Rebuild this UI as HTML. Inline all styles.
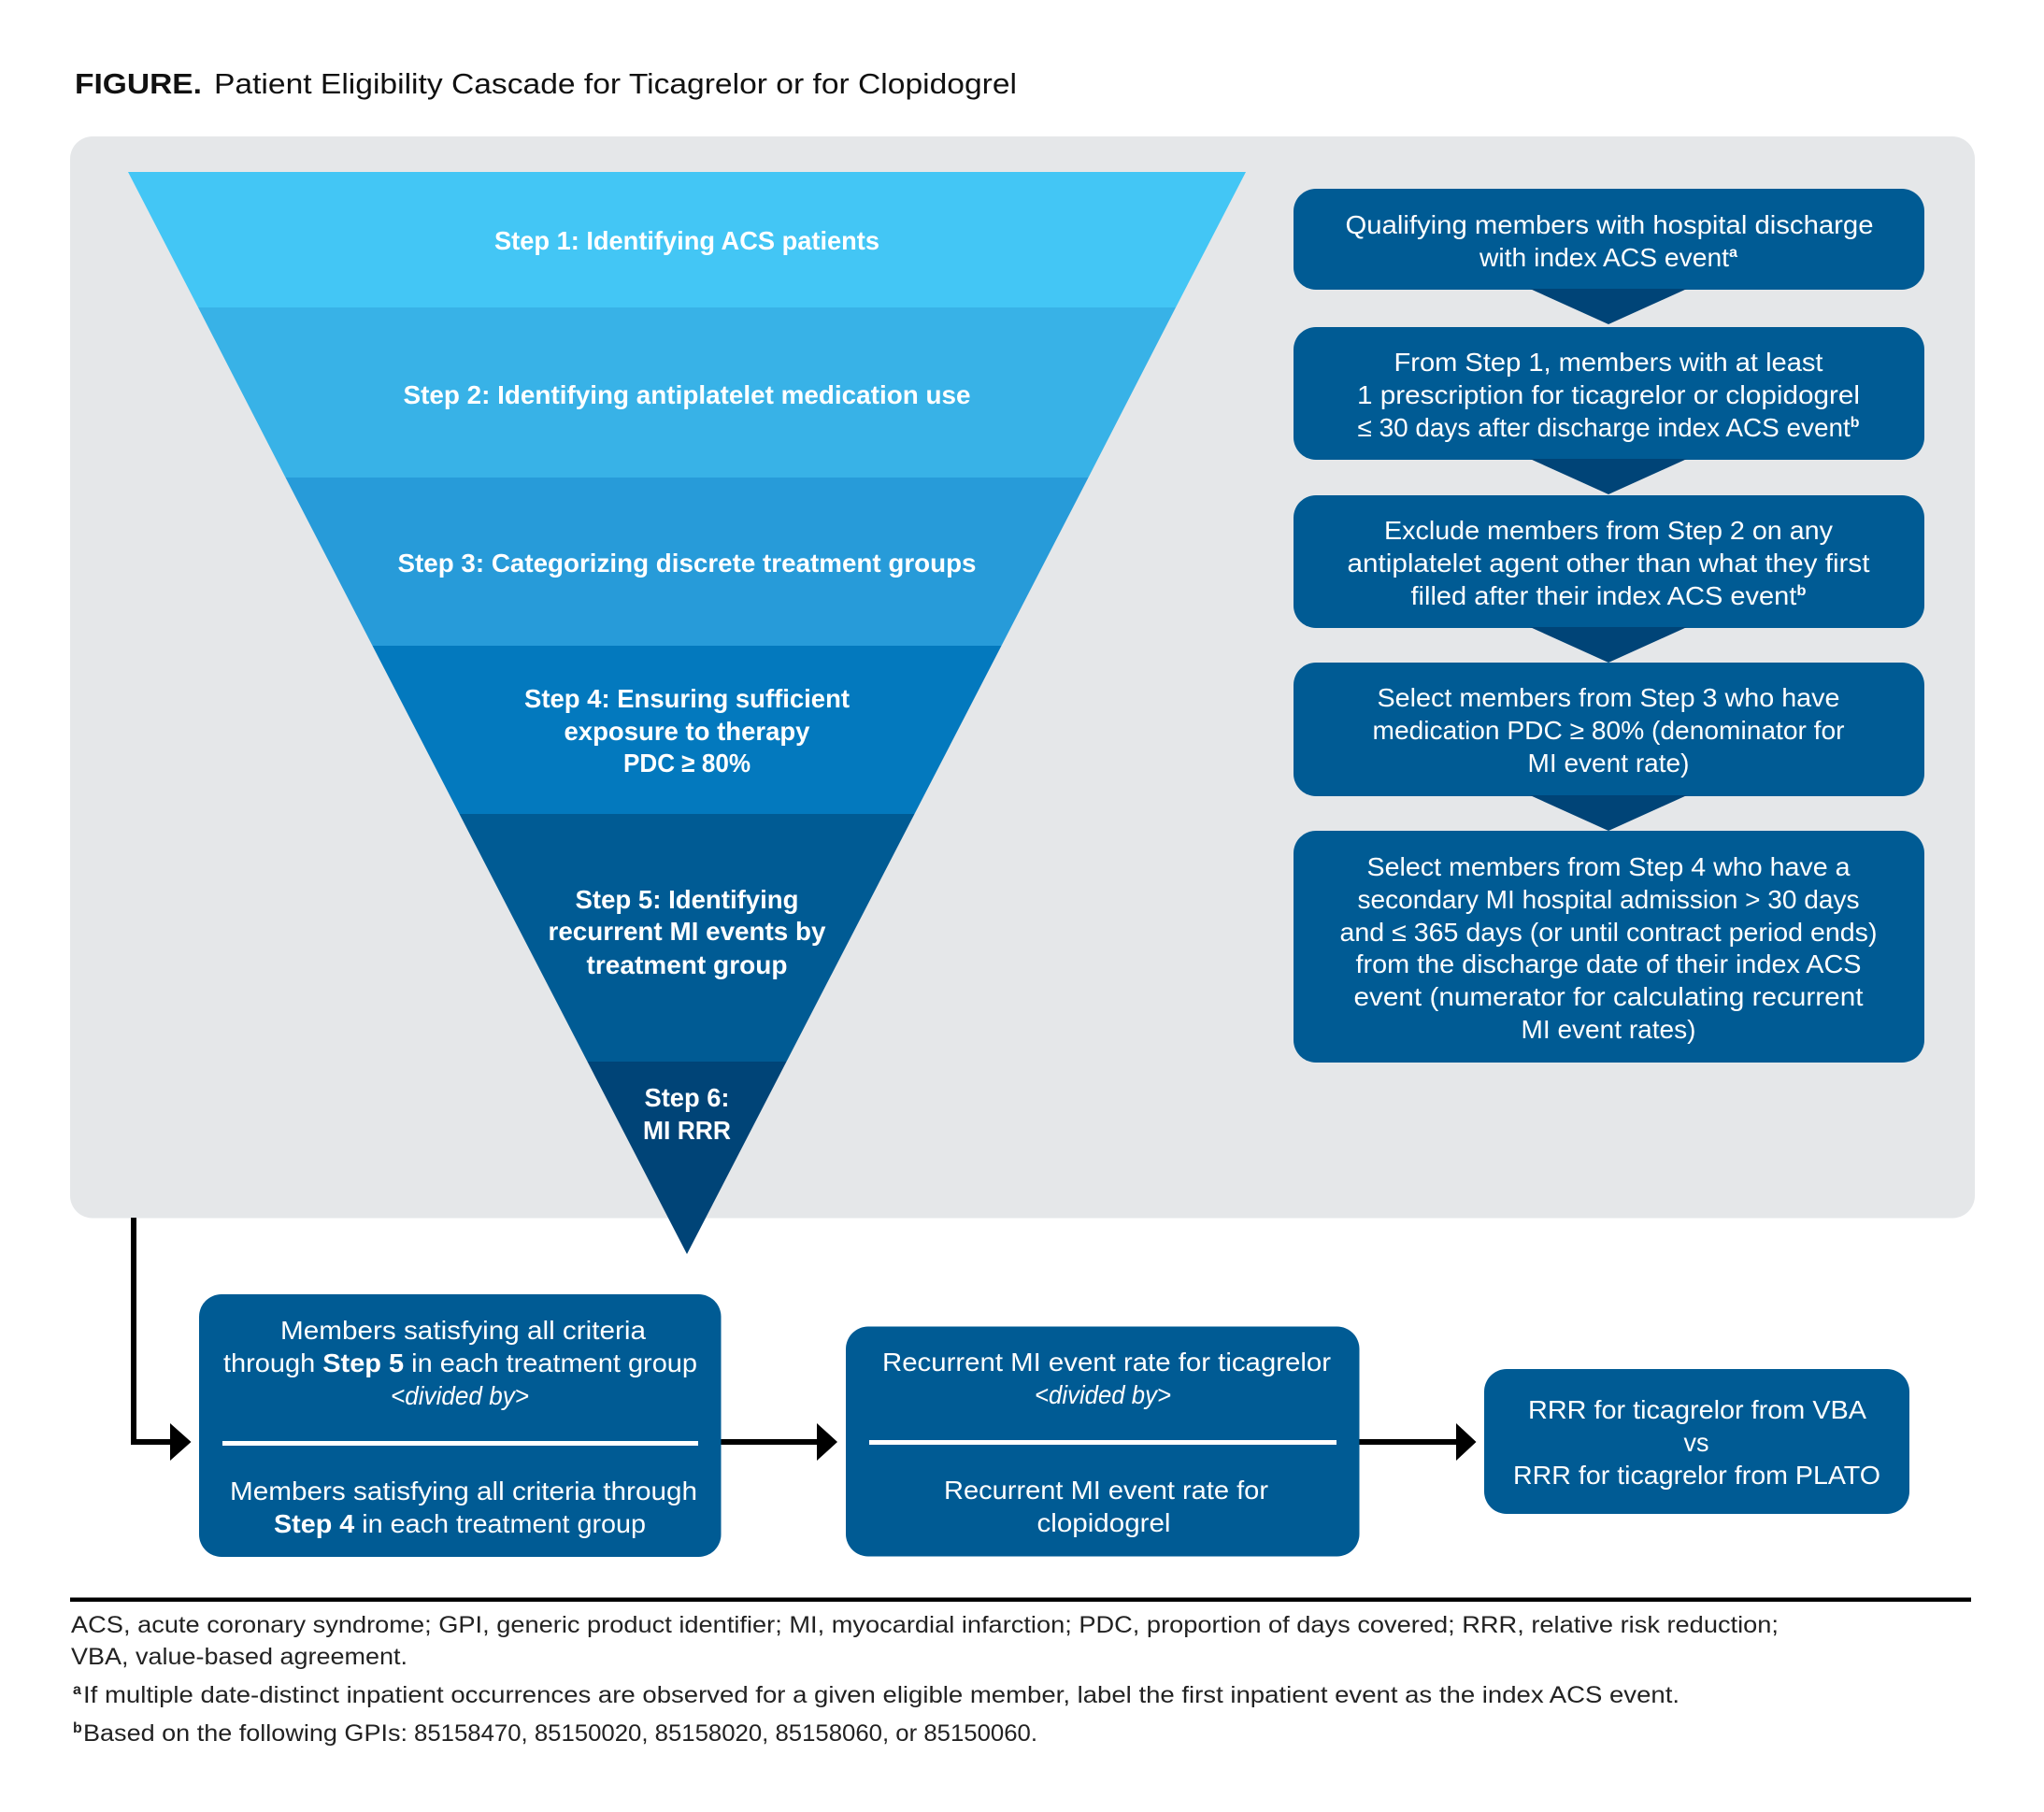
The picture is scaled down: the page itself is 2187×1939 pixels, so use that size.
<!DOCTYPE html>
<html><head><meta charset="utf-8"><title>Figure</title>
<style>
html,body{margin:0;padding:0;background:#fff}
svg{display:block}
text{font-family:"Liberation Sans",sans-serif}
.b{font-size:28px;fill:#fff;text-anchor:middle}
.s{font-size:28px;fill:#fff;text-anchor:middle;font-weight:700}
.f{font-size:25px;fill:#222}
.sp{font-size:16px;font-weight:700}
</style></head><body>
<svg xmlns="http://www.w3.org/2000/svg" width="2187" height="1939" viewBox="0 0 2187 1939">
<rect width="2187" height="1939" fill="#fff"/>
<text x="80" y="100" font-size="31" font-weight="700" fill="#111" textLength="136" lengthAdjust="spacingAndGlyphs">FIGURE.</text>
<text x="229" y="100" font-size="31" fill="#111" textLength="859" lengthAdjust="spacingAndGlyphs">Patient Eligibility Cascade for Ticagrelor or for Clopidogrel</text>

<rect x="75" y="146" width="2038" height="1157.5" rx="24" fill="#E5E7E9"/>

<polygon points="137,184 1333,184 1258,329 212,329" fill="#43C6F5"/>
<polygon points="212,329 1258,329 1164.5,511 305.5,511" fill="#38B2E7"/>
<polygon points="305.5,511 1164.5,511 1071.5,691 398.5,691" fill="#279BD9"/>
<polygon points="398.5,691 1071.5,691 978.5,871 491.5,871" fill="#0379BE"/>
<polygon points="491.5,871 978.5,871 841.5,1136 628.5,1136" fill="#005B94"/>
<polygon points="628.5,1136 841.5,1136 735,1342" fill="#004477"/>

<text class="s" x="735" y="267" textLength="412" lengthAdjust="spacingAndGlyphs">Step 1: Identifying ACS patients</text>
<text class="s" x="735" y="432" textLength="607" lengthAdjust="spacingAndGlyphs">Step 2: Identifying antiplatelet medication use</text>
<text class="s" x="735" y="612" textLength="619" lengthAdjust="spacingAndGlyphs">Step 3: Categorizing discrete treatment groups</text>
<text class="s" x="735" y="757" textLength="348" lengthAdjust="spacingAndGlyphs">Step 4: Ensuring sufficient</text>
<text class="s" x="735" y="792" textLength="263" lengthAdjust="spacingAndGlyphs">exposure to therapy</text>
<text class="s" x="735" y="826" textLength="136" lengthAdjust="spacingAndGlyphs">PDC ≥ 80%</text>
<text class="s" x="735" y="972" textLength="239" lengthAdjust="spacingAndGlyphs">Step 5: Identifying</text>
<text class="s" x="735" y="1006" textLength="297" lengthAdjust="spacingAndGlyphs">recurrent MI events by</text>
<text class="s" x="735" y="1042" textLength="215" lengthAdjust="spacingAndGlyphs">treatment group</text>
<text class="s" x="735" y="1184" textLength="91" lengthAdjust="spacingAndGlyphs">Step 6:</text>
<text class="s" x="735" y="1219" textLength="94" lengthAdjust="spacingAndGlyphs">MI RRR</text>

<rect x="1384" y="202" width="675" height="108" rx="24" fill="#005B94"/>
<rect x="1384" y="350" width="675" height="142" rx="24" fill="#005B94"/>
<rect x="1384" y="530" width="675" height="142" rx="24" fill="#005B94"/>
<rect x="1384" y="709" width="675" height="143" rx="24" fill="#005B94"/>
<rect x="1384" y="889" width="675" height="248" rx="24" fill="#005B94"/>
<polygon points="1637,309 1805,309 1721,347" fill="#004477"/>
<polygon points="1637,491 1805,491 1721,529" fill="#004477"/>
<polygon points="1637,671 1805,671 1721,709" fill="#004477"/>
<polygon points="1637,851 1805,851 1721,889" fill="#004477"/>

<text class="b" x="1722" y="250" textLength="565" lengthAdjust="spacingAndGlyphs">Qualifying members with hospital discharge</text>
<text class="b" x="1721" y="285" textLength="276" lengthAdjust="spacingAndGlyphs">with index ACS event<tspan class="sp" dy="-10">a</tspan></text>
<text class="b" x="1721" y="397" textLength="459" lengthAdjust="spacingAndGlyphs">From Step 1, members with at least</text>
<text class="b" x="1721" y="432" textLength="538" lengthAdjust="spacingAndGlyphs">1 prescription for ticagrelor or clopidogrel</text>
<text class="b" x="1721" y="467" textLength="537" lengthAdjust="spacingAndGlyphs">≤ 30 days after discharge index ACS event<tspan class="sp" dy="-10">b</tspan></text>
<text class="b" x="1721" y="577" textLength="480" lengthAdjust="spacingAndGlyphs">Exclude members from Step 2 on any</text>
<text class="b" x="1721" y="612" textLength="559" lengthAdjust="spacingAndGlyphs">antiplatelet agent other than what they first</text>
<text class="b" x="1721" y="647" textLength="423" lengthAdjust="spacingAndGlyphs">filled after their index ACS event<tspan class="sp" dy="-10">b</tspan></text>
<text class="b" x="1721" y="756" textLength="495" lengthAdjust="spacingAndGlyphs">Select members from Step 3 who have</text>
<text class="b" x="1721" y="791" textLength="505" lengthAdjust="spacingAndGlyphs">medication PDC ≥ 80% (denominator for</text>
<text class="b" x="1721" y="826" textLength="173" lengthAdjust="spacingAndGlyphs">MI event rate)</text>
<text class="b" x="1721" y="937" textLength="517" lengthAdjust="spacingAndGlyphs">Select members from Step 4 who have a</text>
<text class="b" x="1721" y="972" textLength="537" lengthAdjust="spacingAndGlyphs">secondary MI hospital admission &gt; 30 days</text>
<text class="b" x="1721" y="1007" textLength="575" lengthAdjust="spacingAndGlyphs">and ≤ 365 days (or until contract period ends)</text>
<text class="b" x="1721" y="1041" textLength="541" lengthAdjust="spacingAndGlyphs">from the discharge date of their index ACS</text>
<text class="b" x="1721" y="1076" textLength="545" lengthAdjust="spacingAndGlyphs">event (numerator for calculating recurrent</text>
<text class="b" x="1721" y="1111" textLength="187" lengthAdjust="spacingAndGlyphs">MI event rates)</text>

<polyline points="143,1303 143,1543 190,1543" fill="none" stroke="#000" stroke-width="6"/>
<polygon points="182,1523 204.5,1543 182,1563" fill="#000"/>
<rect x="771" y="1540" width="110" height="6" fill="#000"/>
<polygon points="874,1523 896,1543 874,1563" fill="#000"/>
<rect x="1454" y="1540" width="110" height="6" fill="#000"/>
<polygon points="1558,1523 1579.5,1543 1558,1563" fill="#000"/>

<rect x="213" y="1385" width="558.5" height="281" rx="24" fill="#005B94"/>
<rect x="905" y="1419.5" width="549.5" height="246" rx="24" fill="#005B94"/>
<rect x="1588" y="1465" width="455" height="155" rx="24" fill="#005B94"/>
<rect x="238" y="1542" width="509" height="5" fill="#fff"/>
<rect x="930" y="1541" width="500" height="5" fill="#fff"/>

<text class="b" x="495.500" y="1433" textLength="391" lengthAdjust="spacingAndGlyphs">Members satisfying all criteria</text>
<text class="b" x="492.500" y="1468" textLength="507" lengthAdjust="spacingAndGlyphs">through <tspan font-weight="700">Step 5</tspan> in each treatment group</text>
<text class="b" x="492" y="1503" textLength="148" lengthAdjust="spacingAndGlyphs" font-style="italic">&lt;divided by&gt;</text>
<text class="b" x="496" y="1605" textLength="500" lengthAdjust="spacingAndGlyphs">Members satisfying all criteria through</text>
<text class="b" x="492" y="1640" textLength="398" lengthAdjust="spacingAndGlyphs"><tspan font-weight="700">Step 4</tspan> in each treatment group</text>

<text class="b" x="1184" y="1467" textLength="480" lengthAdjust="spacingAndGlyphs">Recurrent MI event rate for ticagrelor</text>
<text class="b" x="1180" y="1502" textLength="146" lengthAdjust="spacingAndGlyphs" font-style="italic">&lt;divided by&gt;</text>
<text class="b" x="1183.500" y="1604" textLength="347" lengthAdjust="spacingAndGlyphs">Recurrent MI event rate for</text>
<text class="b" x="1181" y="1639" textLength="143" lengthAdjust="spacingAndGlyphs">clopidogrel</text>

<text class="b" x="1816" y="1518" textLength="362" lengthAdjust="spacingAndGlyphs">RRR for ticagrelor from VBA</text>
<text class="b" x="1815" y="1553" textLength="27" lengthAdjust="spacingAndGlyphs">vs</text>
<text class="b" x="1815.500" y="1588" textLength="393" lengthAdjust="spacingAndGlyphs">RRR for ticagrelor from PLATO</text>

<rect x="75" y="1709.500" width="2034" height="4.500" fill="#000"/>
<text class="f" x="76" y="1747" textLength="1827" lengthAdjust="spacingAndGlyphs">ACS, acute coronary syndrome; GPI, generic product identifier; MI, myocardial infarction; PDC, proportion of days covered; RRR, relative risk reduction;</text>
<text class="f" x="76" y="1781" textLength="360" lengthAdjust="spacingAndGlyphs">VBA, value-based agreement.</text>
<text class="f sp" x="78" y="1813">a</text>
<text class="f" x="89" y="1822" textLength="1708" lengthAdjust="spacingAndGlyphs">If multiple date-distinct inpatient occurrences are observed for a given eligible member, label the first inpatient event as the index ACS event.</text>
<text class="f sp" x="78" y="1854">b</text>
<text class="f" x="89" y="1863" textLength="347" lengthAdjust="spacingAndGlyphs">Based on the following GPIs:</text>
<text class="f" x="443" y="1863" textLength="667" lengthAdjust="spacingAndGlyphs">85158470, 85150020, 85158020, 85158060, or 85150060.</text>
</svg>
</body></html>
